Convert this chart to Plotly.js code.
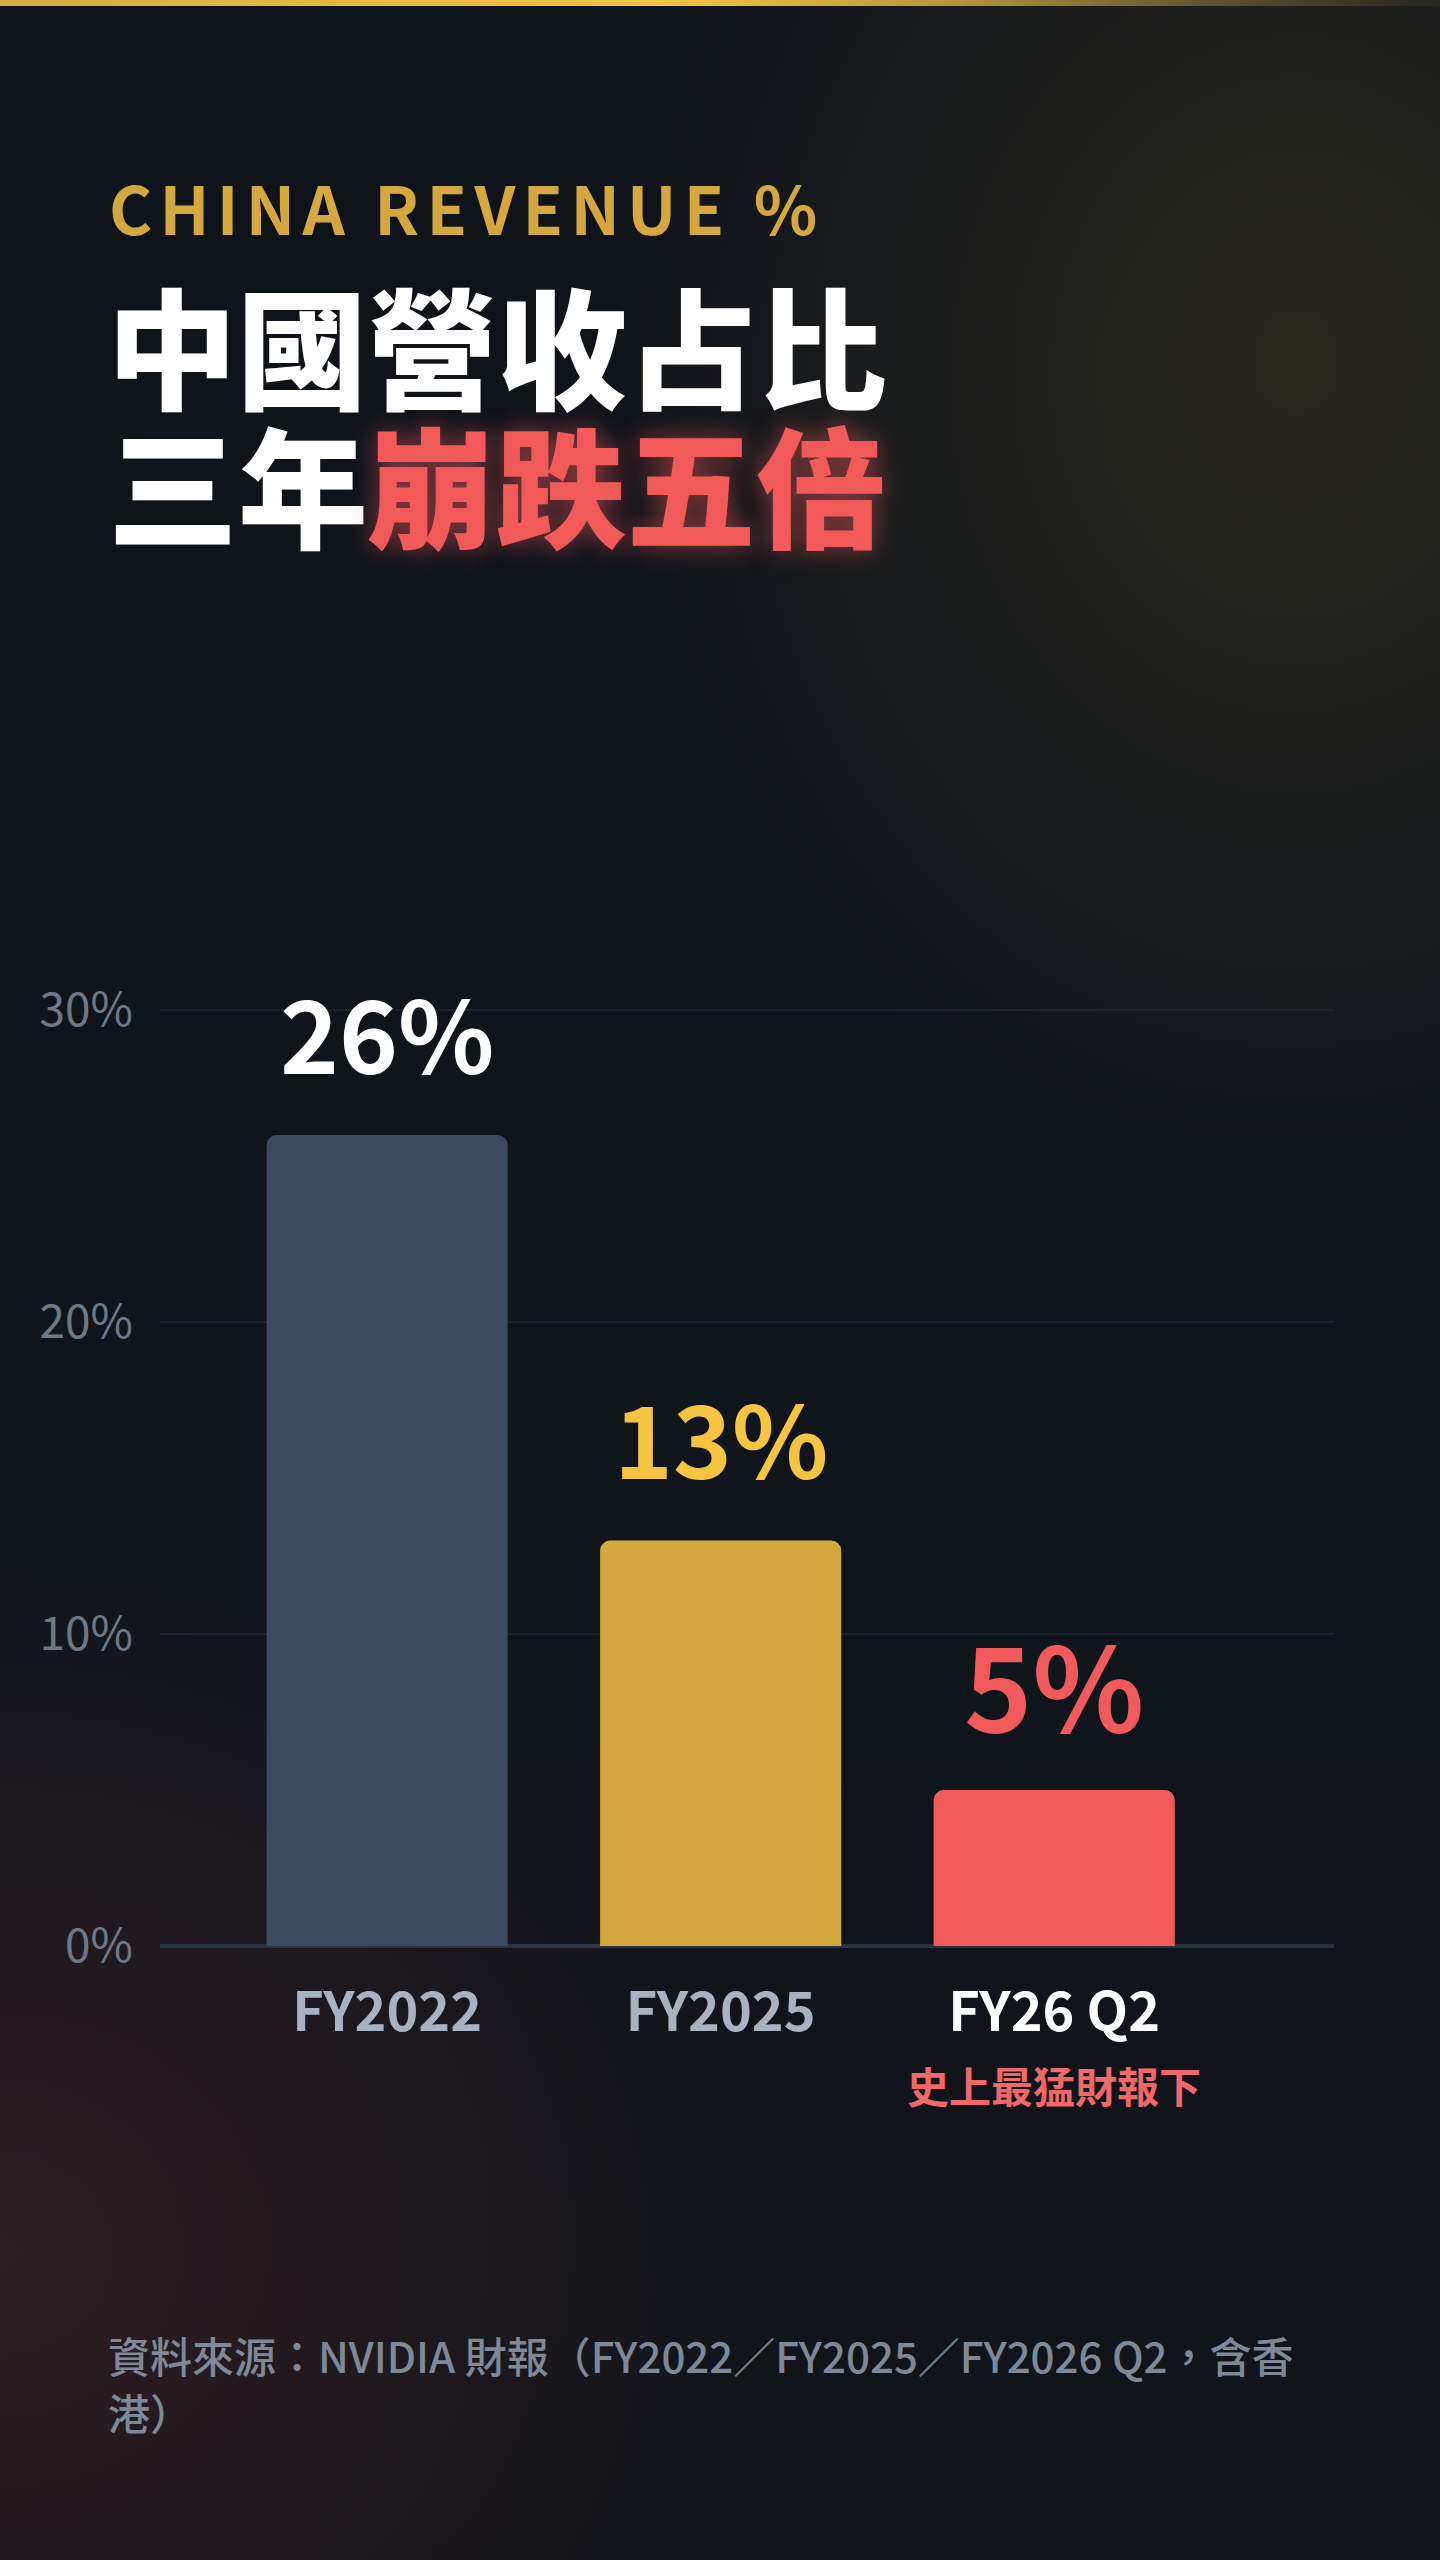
<!DOCTYPE html>
<html>
<head>
<meta charset="utf-8">
<script src="https://cdn.plot.ly/plotly-3.0.1.min.js"></script>
<style>
  html, body { margin: 0; padding: 0; }
  body {
    width: 1440px; height: 2560px; overflow: hidden;
    background:
      radial-gradient(ellipse 1000px 1200px at 90% 14%, rgba(212,168,62,0.14), rgba(212,168,62,0) 70%),
      radial-gradient(ellipse 1100px 1000px at 0% 88%, rgba(242,90,90,0.13), rgba(242,90,90,0) 70%),
      linear-gradient(180deg, #0e131a 0%, #10151c 50%, #111419 100%);
  }
  #topbar {
    position: absolute; left: 0; top: 0; width: 1440px; height: 6px;
    background: linear-gradient(90deg, #d6aa42 0%, #f5c542 46%, #b8963a 66%, #5f5430 84%, #262620 100%);
  }
  #chart { position: absolute; left: 0; top: 0; width: 1440px; height: 2560px; }
  /* wide tracking on the English kicker */
  #chart .annotation[data-index="0"] text { letter-spacing: 0.11em; }
</style>
</head>
<body>
<div id="topbar"></div>
<div id="chart"></div>
<script>
// data
var categories = ['FY2022', 'FY2025', 'FY26 Q2'];
var shares = [26, 13, 5];
var yTicks = [0, 10, 20, 30];
var yTickText = ['0%', '10%', '20%', '30%'];

// styles
var barColors = ['#3b4a5e', '#d4a83e', '#f25a5a'];
var labelColors = ['#ffffff', '#f5c542', '#f05a5a'];
var labelSizes = [100, 100, 116];
var labelShift = [30, 30, 23];
var FONT = '"Noto Sans CJK TC", "Noto Sans", sans-serif';

var W = 1440, H = 2560;
var M = { l: 160, r: 106, t: 979, b: 614 };
function px(x) { return (x - M.l) / (W - M.l - M.r); }
function py(y) { return (H - M.b - y) / (H - M.t - M.b); }

var tickText = categories.map(function (c, i) {
  return i === categories.length - 1 ? '<span style="color:#ffffff">' + c + '</span>' : c;
});

var data = [{
  type: 'bar',
  x: categories,
  y: shares,
  marker: { color: barColors, cornerradius: 10 },
  hoverinfo: 'skip'
}];

var annotations = [
  { text: 'CHINA REVENUE %', x: px(108), y: py(206), xanchor: 'left', yanchor: 'middle', align: 'left',
    borderpad: 0, font: { family: FONT, size: 66, weight: 700, color: '#d4a83e' } },
  { text: '中國營收占比', x: px(106), y: py(342), xanchor: 'left', yanchor: 'middle',
    borderpad: 0, font: { family: FONT, size: 130, weight: 900, color: '#ffffff' } },
  { text: '三年', x: px(106), y: py(481), xanchor: 'left', yanchor: 'middle',
    font: { family: FONT, size: 130, weight: 900, color: '#ffffff' } },
  { text: '崩跌五倍', x: px(364), y: py(481), xanchor: 'left', yanchor: 'middle',
    font: { family: FONT, size: 130, weight: 900, color: '#f25a5a',
            shadow: '0 0 26px rgba(242,90,90,0.55)' } },
  { text: '史上最猛財報下', x: categories[2], xref: 'x', y: py(2084), xanchor: 'center', yanchor: 'middle',
    font: { family: FONT, size: 42, weight: 700, color: '#f06868' } },
  { text: '資料來源：NVIDIA 財報（FY2022／FY2025／FY2026 Q2，含香', x: px(106), y: py(2354),
    xanchor: 'left', yanchor: 'middle',
    font: { family: FONT, size: 42, weight: 500, color: '#7f8896' } },
  { text: '港）', x: px(106), y: py(2411), xanchor: 'left', yanchor: 'middle',
    font: { family: FONT, size: 42, weight: 500, color: '#7f8896' } }
];

annotations.forEach(function (a) {
  if (!a.xref) a.xref = 'paper';
  a.yref = 'paper';
  a.showarrow = false;
});

categories.forEach(function (c, i) {
  annotations.push({
    text: shares[i] + '%', x: c, y: shares[i], xref: 'x', yref: 'y',
    xanchor: 'center', yanchor: 'bottom', yshift: labelShift[i], showarrow: false,
    font: { family: FONT, size: labelSizes[i], weight: 700, color: labelColors[i] }
  });
});

var layout = {
  width: W, height: H,
  margin: M,
  paper_bgcolor: 'rgba(0,0,0,0)',
  plot_bgcolor: 'rgba(0,0,0,0)',
  showlegend: false,
  bargap: 0.277,
  font: { family: FONT },
  xaxis: {
    type: 'category',
    range: [-0.681, 2.839],
    tickvals: categories, ticktext: tickText,
    showgrid: false, zeroline: false, showline: false, ticks: '',
    ticklabelstandoff: 30,
    tickfont: { family: FONT, size: 54, weight: 700, color: '#a8b2c1' },
    fixedrange: true
  },
  yaxis: {
    range: [0, 31],
    tickvals: yTicks, ticktext: yTickText,
    showgrid: true, gridcolor: '#1b222c', gridwidth: 2,
    zeroline: true, zerolinecolor: '#2a3440', zerolinewidth: 4,
    showline: false, ticks: '',
    ticklabelstandoff: 26,
    tickfont: { family: FONT, size: 46, color: '#6e7886' },
    fixedrange: true
  },
  annotations: annotations
};

Plotly.newPlot('chart', data, layout, { displayModeBar: false, staticPlot: true });
</script>
</body>
</html>
